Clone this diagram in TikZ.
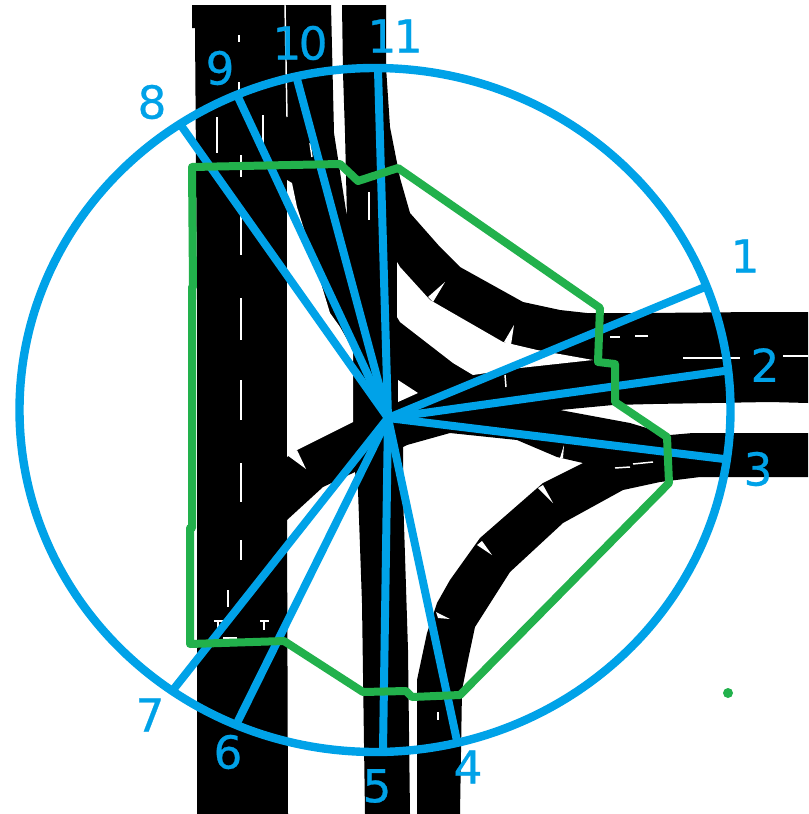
\documentclass[tikz,border=0pt]{standalone}
\usepackage{fontspec}
\setmainfont{DejaVu Sans}
\newfontfamily\numfont[FakeBold=0.6]{DejaVu Sans}
\definecolor{skyb}{HTML}{00A2E8}
\definecolor{grn}{HTML}{22B14C}
\tikzset{
  road/.style={fill=black,draw=none},
  island/.style={fill=white,draw=none},
  paint/.style={draw=white,line width=1.1pt},
  spoke/.style={draw=skyb,line width=6pt,line cap=round},
  ring/.style={draw=skyb,line width=6.3pt},
  zone/.style={draw=grn,line width=6pt,line join=round},
  num/.style={text=skyb,font=\numfont\fontsize{34}{34}\selectfont,inner sep=0pt},
}
\begin{document}
\begin{tikzpicture}[x=0.75pt,y=-0.75pt]
\useasboundingbox (0,0) rectangle (808,814);
\fill[white] (0,0) rectangle (808,814);
% road surface
\fill[road] (192,5)--(331,5)--(334,133)--(347,217)--(345,133)--(343,73)--(342,5)--(386,5)--(386,67)--(390,127)--(400,178)--(410,213)--(440,247)--(460,267)--(523,302)--(560,310)--(587,313)--(647,313)--(758,312)--(808,312)--(808,403)--(770,402)--(653,404)--(613,405)--(560,410)--(630,423)--(670,435)--(693,433)--(808,433)--(808,477)--(700,477)--(660,482)--(623,490)--(563,523)--(510,572)--(475,627)--(468,660)--(462,690)--(460,814)--(417,814)--(417,680)--(427,633)--(437,603)--(450,580)--(480,538)--(543,483)--(583,463)--(557,457)--(517,440)--(450,433)--(407,445)--(403,447)--(403,493)--(408,650)--(410,814)--(365,814)--(362,603)--(358,490)--(355,472)--(323,487)--(287,520)--(288,814)--(197,814)--(197,300)--(195,28)--(192,28)--cycle;
% islands
\fill[island] (287,180)--(292,183)--(297,207)--(317,270)--(330,313)--(340,327)--(353,350)--(353,422)--(297,450)--(287,457)--cycle;
\fill[island] (400,267)--(430,300)--(503,342)--(537,350)--(593,360)--(520,368)--(473,375)--(453,363)--(400,322)--(397,317)--(397,262)--cycle;
\fill[island] (398,380)--(418,393)--(398,402)--cycle;
% road markings
\foreach \a/\b/\c/\d in {285/5/287/117, 239/35/239/42, 239/82/239/90, 241/155/241/177, 241/213/241/255, 241/298/241/340, 241/380/241/420, 241/463/241/502, 241/540/241/560, 228/590/228/607, 217/117/217/153, 263/115/263/147, 310/143/312/157, 369/192/369/220, 610/337/620/337, 635/336/648/336, 683/358/740/358, 783/356/808/356, 615/468/630/467, 633/464/653/462, 505/375/506/387, 438/712/438/720, 214/621/223/621, 218/621/218/630, 260/621/269/621, 264/621/264/630, 223/638/237/638} {
  \draw[paint] (\a,\b)--(\c,\d);
}
\foreach \a/\b/\c/\d/\e/\f in {428/297/433/302/445/282, 504/342/511/345/514/325, 560/458/563/458/564/445, 538/488/543/485/553/503, 477/545/482/541/492/555, 436/612/438/618/450/619, 287/455/297/450/306/469} {
  \fill[white] (\a,\b)--(\c,\d)--(\e,\f)--cycle;
}
% outer circle
\draw[ring] (375,410) ellipse [x radius=355.5,y radius=342];
% spokes
\coordinate (hub) at (388,418);
\foreach \n/\x/\y in {e1/705/287, e2/724/371, e3/724/459, e4/457/741, e5/383/750, e6/238/721, e7/173/690, e8/180/124, e9/238/97, e10/297/79, e11/378/70} {
  \coordinate (\n) at (\x,\y);
  \draw[spoke] (hub)--(\n);
}
% study area boundary
\coordinate (g1) at (192,167);
\draw[zone] (g1)--(340,164)--(358,181)--(398,168)--(600,308)--(598,362)--(615,364)--(615,402)--(667,437)--(669,483)--(460,695)--(412,697)--(406,691)--(363,692)--(284,641)--(190,644)--(190,528)--(192,528)--(192,287)--(193,287)--cycle;
\fill[grn] (728,693) circle (5);
% labels
\node[num] (l1) at (745,256) {1};
\node[num] (l2) at (765,365) {2};
\node[num] (l3) at (758,469) {3};
\node[num] (l4) at (468,767) {4};
\node[num] (l5) at (377,786) {5};
\node[num] (l6) at (228,752) {6};
\node[num] (l7) at (150,715) {7};
\node[num] (l8) at (152,102) {8};
\node[num] (l9) at (220,68) {9};
\node[num] (l10) at (300,43) {1\kern-2pt 0};
\node[num] (l11) at (395,36) {1\kern-2pt 1};
\end{tikzpicture}
\end{document}
